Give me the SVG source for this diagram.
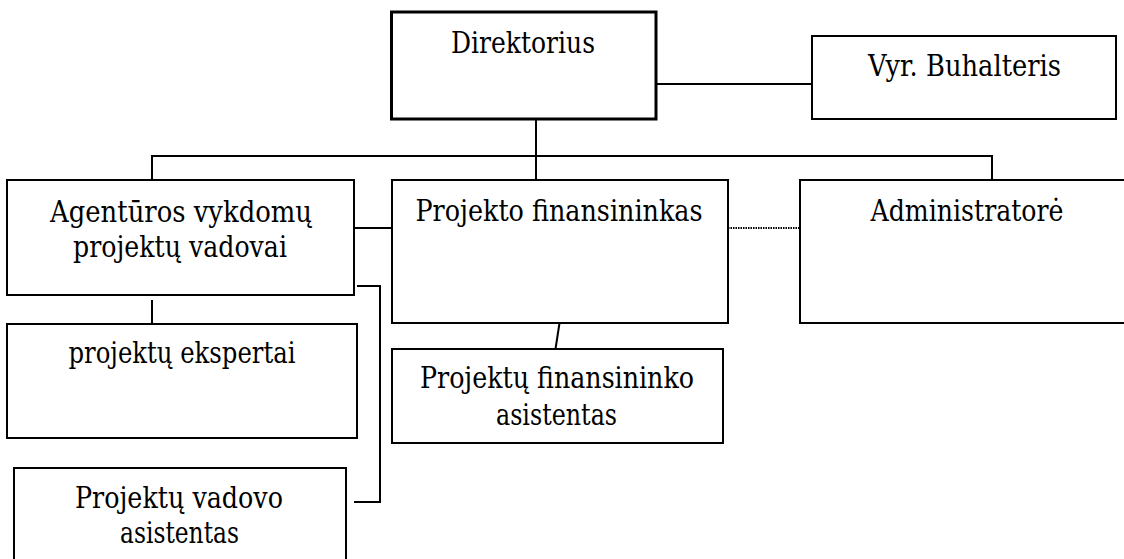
<svg xmlns="http://www.w3.org/2000/svg" width="1124" height="559" viewBox="0 0 1124 559">
<style>
.box{fill:#fff;stroke:#000;stroke-width:2}
.thick{stroke-width:3}
.c{fill:none;stroke:#000;stroke-width:2}
.dot{fill:none;stroke:#000;stroke-width:2;stroke-dasharray:1.5 1}
text{font-family:'DejaVu Serif',serif;font-size:29px;fill:#000;text-anchor:middle}
</style>
<rect width="1124" height="559" fill="#fff"/>
<g id="connectors">
<line class="c" x1="656" y1="84" x2="812" y2="84"/>
<line class="c" x1="536" y1="120" x2="536" y2="180"/>
<polyline class="c" points="152,180 152,156 992,156 992,180"/>
<line class="c" x1="354" y1="228" x2="392" y2="228"/>
<line class="dot" x1="728" y1="228" x2="800" y2="228"/>
<line class="c" x1="152" y1="300" x2="152" y2="324"/>
<polyline class="c" points="357,286 380,286 380,502 354,502"/>
<line class="c" x1="559.5" y1="323" x2="555.5" y2="349"/>
</g>
<g id="direktorius">
<rect class="box thick" x="391.5" y="12" width="264.5" height="107"/>
<text x="523" y="52.5" textLength="144" lengthAdjust="spacingAndGlyphs">Direktorius</text>
</g>
<g id="vyr-buhalteris">
<rect class="box" x="812" y="36" width="304" height="83"/>
<text x="964.5" y="76" textLength="193" lengthAdjust="spacingAndGlyphs">Vyr. Buhalteris</text>
</g>
<g id="agenturos">
<rect class="box" x="7" y="180" width="347" height="115"/>
<text x="181" y="222" textLength="262" lengthAdjust="spacingAndGlyphs">Agentūros vykdomų</text>
<text x="180" y="256.5" textLength="214" lengthAdjust="spacingAndGlyphs">projektų vadovai</text>
</g>
<g id="projekto-finansininkas">
<rect class="box" x="392" y="180" width="336" height="143"/>
<text x="559" y="221" textLength="287" lengthAdjust="spacingAndGlyphs">Projekto finansininkas</text>
</g>
<g id="administratore">
<rect class="box" x="800" y="180" width="334" height="143"/>
<text x="967" y="221" textLength="193" lengthAdjust="spacingAndGlyphs">Administratorė</text>
</g>
<g id="projektu-ekspertai">
<rect class="box" x="7" y="324" width="350" height="114"/>
<text x="182" y="363" textLength="227" lengthAdjust="spacingAndGlyphs">projektų ekspertai</text>
</g>
<g id="projektu-finansininko-asistentas">
<rect class="box" x="392" y="349" width="331" height="94"/>
<text x="557" y="388" textLength="274" lengthAdjust="spacingAndGlyphs">Projektų finansininko</text>
<text x="556.5" y="425" textLength="121" lengthAdjust="spacingAndGlyphs">asistentas</text>
</g>
<g id="projektu-vadovo-asistentas">
<rect class="box" x="14" y="468" width="332" height="100"/>
<text x="179" y="508" textLength="208" lengthAdjust="spacingAndGlyphs">Projektų vadovo</text>
<text x="179.5" y="543" textLength="119" lengthAdjust="spacingAndGlyphs">asistentas</text>
</g>
</svg>
